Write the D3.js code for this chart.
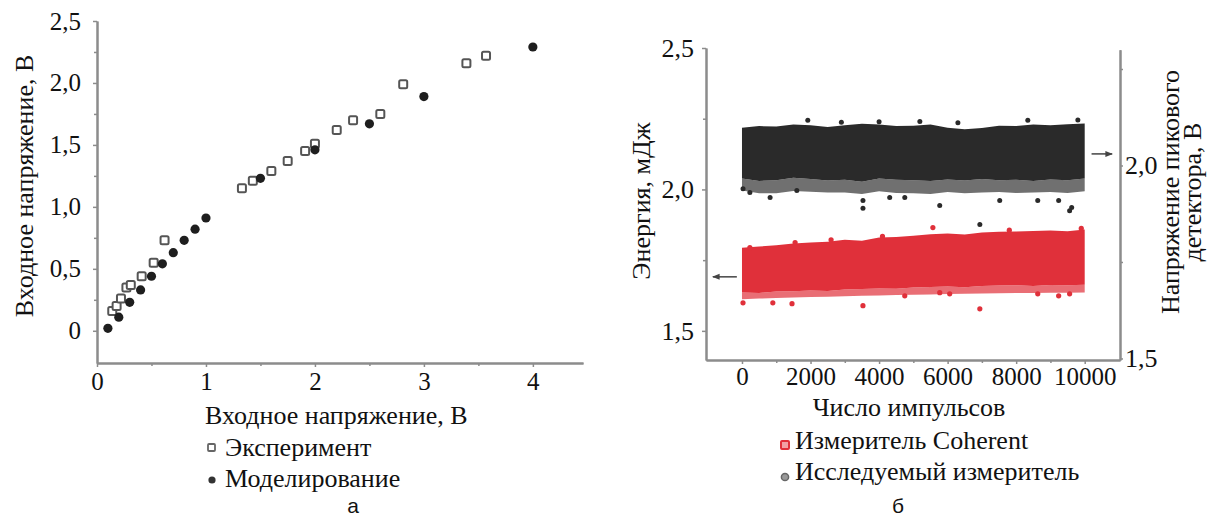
<!DOCTYPE html>
<html>
<head>
<meta charset="utf-8">
<script src="https://cdn.jsdelivr.net/npm/d3@7"></script>
<style>
    body { margin: 0; background: #fff; }
    svg text { font-family: "Liberation Serif", "Times New Roman", serif; fill: #111; }
    .axis path, .axis line { stroke: #8c8c8c; }
    .axis path { stroke-width: 2; }
    .axis line { stroke-width: 1.5; }
</style>
</head>
<body>
<svg id="chart" width="1210" height="520"></svg>
<script>
// ---- panel a: input voltage curve ----
const expX = [0.14, 0.18, 0.22, 0.27, 0.31, 0.41, 0.52, 0.62, 1.33, 1.43, 1.60, 1.75, 1.91, 2.00, 2.20, 2.35, 2.60, 2.81, 3.39, 3.57];
const expY = [0.16, 0.20, 0.26, 0.35, 0.37, 0.44, 0.55, 0.73, 1.15, 1.21, 1.29, 1.37, 1.45, 1.51, 1.62, 1.70, 1.75, 1.99, 2.16, 2.22];
const simX = [0.1, 0.2, 0.3, 0.4, 0.5, 0.6, 0.7, 0.8, 0.9, 1.0, 1.5, 2.0, 2.5, 3.0, 4.0];
const simY = [0.02, 0.11, 0.23, 0.33, 0.44, 0.54, 0.63, 0.73, 0.82, 0.91, 1.23, 1.46, 1.67, 1.89, 2.29];
const aTicksX = [0, 1, 2, 3, 4];
const aTicksY = [0, 0.5, 1.0, 1.5, 2.0, 2.5];

// ---- panel b: energy over pulse count (band edges + stray points) ----
const pulses = [0, 500, 1000, 1500, 2000, 2500, 3000, 3500, 4000, 4500, 5000, 5500, 6000, 6500, 7000, 7500, 8000, 8500, 9000, 9500, 10000];
const coherentTop = [1.794, 1.798, 1.803, 1.809, 1.812, 1.815, 1.822, 1.819, 1.830, 1.832, 1.836, 1.842, 1.844, 1.841, 1.848, 1.850, 1.851, 1.853, 1.855, 1.852, 1.858];
const coherentLow = [1.636, 1.634, 1.639, 1.640, 1.643, 1.641, 1.646, 1.648, 1.650, 1.649, 1.653, 1.655, 1.657, 1.654, 1.659, 1.660, 1.661, 1.659, 1.662, 1.661, 1.663];
const coherentSparse = [1.612, 1.614, 1.616, 1.618, 1.620, 1.621, 1.622, 1.624, 1.625, 1.627, 1.628, 1.629, 1.630, 1.631, 1.632, 1.633, 1.634, 1.634, 1.635, 1.635, 1.636];
const coherentOutX = [30, 900, 1460, 3530, 4750, 5770, 6060, 6940, 8630, 9240, 9560, 230, 1550, 5570, 2600, 4100, 7800, 9900];
const coherentOutY = [1.599, 1.599, 1.596, 1.589, 1.624, 1.635, 1.631, 1.578, 1.631, 1.624, 1.631, 1.794, 1.812, 1.865, 1.822, 1.834, 1.856, 1.862];
const testTop = [2.098, 2.102, 2.101, 2.106, 2.104, 2.100, 2.104, 2.108, 2.106, 2.102, 2.103, 2.106, 2.098, 2.094, 2.097, 2.103, 2.102, 2.106, 2.104, 2.107, 2.109];
const testLow = [1.966, 1.960, 1.962, 1.968, 1.965, 1.961, 1.963, 1.958, 1.966, 1.963, 1.962, 1.960, 1.964, 1.961, 1.965, 1.962, 1.963, 1.960, 1.964, 1.962, 1.966];
const testSparse = [1.935, 1.928, 1.928, 1.934, 1.932, 1.930, 1.930, 1.926, 1.933, 1.929, 1.928, 1.926, 1.931, 1.928, 1.930, 1.931, 1.929, 1.930, 1.931, 1.929, 1.933];
const testOutX = [30, 230, 820, 1600, 3530, 3530, 4310, 4750, 5770, 6940, 7520, 8630, 9240, 9620, 9560, 1920, 5190, 8340, 2900, 4000, 6300, 9800];
const testOutY = [1.940, 1.930, 1.917, 1.935, 1.909, 1.889, 1.917, 1.917, 1.896, 1.847, 1.909, 1.909, 1.909, 1.891, 1.883, 2.117, 2.114, 2.117, 2.112, 2.113, 2.111, 2.118];
const bTicksX = [0, 2000, 4000, 6000, 8000, 10000];
const bTicksY = [1.5, 2.0, 2.5];
const bTicksR = [1.5, 2.0];

const svg = d3.select("#chart");
const fmt = v => v === 0 ? "0" : d3.format(".1f")(v).replace(".", ",");
const SERIF = "'Liberation Serif', 'Times New Roman', serif";

function styleAxis(g, size) {
    g.attr("class", "axis").attr("font-family", null);
    g.selectAll("text")
        .style("font-family", SERIF)
        .style("font-size", size + "px")
        .attr("fill", "#111");
}

function drawPanelA() {
    const x = d3.scaleLinear().domain([0, 4.46]).range([97, 583]);
    const y = d3.scaleLinear().domain([-0.26, 2.5]).range([363, 21]);

    // minor ticks
    svg.append("g").attr("transform", "translate(0,363)")
        .call(d3.axisBottom(x).tickValues([0.5, 1.5, 2.5, 3.5]).tickSize(3).tickFormat("").tickSizeOuter(0))
        .call(g => g.attr("class", "axis"));
    svg.append("g").attr("transform", "translate(97,0)")
        .call(d3.axisLeft(y).tickValues([0.25, 0.75, 1.25, 1.75, 2.25]).tickSize(3).tickFormat("").tickSizeOuter(0))
        .call(g => g.attr("class", "axis"));

    svg.append("g").attr("transform", "translate(0,363)")
        .call(d3.axisBottom(x).tickValues(aTicksX).tickSize(4).tickPadding(5).tickFormat(d3.format("d")).tickSizeOuter(0))
        .call(g => styleAxis(g, 25));
    svg.append("g").attr("transform", "translate(97,0)")
        .call(d3.axisLeft(y).tickValues(aTicksY).tickSize(4).tickPadding(12).tickFormat(fmt).tickSizeOuter(0))
        .call(g => styleAxis(g, 25));

    svg.append("text")
        .attr("transform", "translate(33,186) rotate(-90)")
        .attr("text-anchor", "middle")
        .style("font-size", "26px")
        .text("Входное напряжение, В");

    svg.append("text")
        .attr("x", 205).attr("y", 424)
        .style("font-size", "26px")
        .text("Входное напряжение, В");

    svg.selectAll("rect.exp")
        .data(expX.map((v, i) => [v, expY[i]]))
        .enter()
        .append("rect")
        .attr("class", "exp")
        .attr("x", d => x(d[0]) - 4)
        .attr("y", d => y(d[1]) - 4)
        .attr("width", 8).attr("height", 8)
        .attr("rx", 1.5)
        .attr("fill", "#fff")
        .attr("stroke", "#555")
        .attr("stroke-width", 2);

    svg.selectAll("circle.sim")
        .data(simX.map((v, i) => [v, simY[i]]))
        .enter()
        .append("circle")
        .attr("class", "sim")
        .attr("cx", d => x(d[0]))
        .attr("cy", d => y(d[1]))
        .attr("r", 4.6)
        .attr("fill", "#1e1e1e");

    // legend
    svg.append("rect")
        .attr("x", 208).attr("y", 444).attr("width", 7).attr("height", 7).attr("rx", 1)
        .attr("fill", "#fff").attr("stroke", "#666").attr("stroke-width", 1.8);
    svg.append("text").attr("x", 225).attr("y", 456).style("font-size", "26px").text("Эксперимент");
    svg.append("circle").attr("cx", 212).attr("cy", 480).attr("r", 3.6).attr("fill", "#333");
    svg.append("text").attr("x", 225).attr("y", 487).style("font-size", "26px").text("Моделирование");

    svg.append("text").attr("x", 353).attr("y", 513).attr("text-anchor", "middle")
        .style("font-family", "'Liberation Sans', Arial, sans-serif").style("font-size", "21px").text("а");
}

function drawPanelB() {
    const x = d3.scaleLinear().domain([-1050, 11030]).range([706, 1120]);
    const y = d3.scaleLinear().domain([1.397, 2.5]).range([360, 48]);
    const yR = d3.scaleLinear().domain([1.496, 2.3]).range([360, 49.7]);

    const band = (top, low, scale) => d3.area()
        .x((d, i) => x(pulses[i]))
        .y0((d, i) => scale(low[i]))
        .y1((d, i) => scale(top[i]));

    // peak detector band (right axis)
    svg.append("path").datum(pulses)
        .attr("fill", "#333").attr("opacity", 0.7)
        .attr("d", band(testLow, testSparse, yR));
    svg.append("path").datum(pulses)
        .attr("fill", "#2a2a2a")
        .attr("d", band(testTop, testLow, yR));
    svg.selectAll("circle.test")
        .data(testOutX.map((v, i) => [v, testOutY[i]]))
        .enter().append("circle").attr("class", "test")
        .attr("cx", d => x(d[0])).attr("cy", d => yR(d[1])).attr("r", 2.5)
        .attr("fill", "#2a2a2a");

    // Coherent band (left axis)
    svg.append("path").datum(pulses)
        .attr("fill", "#e0303a").attr("opacity", 0.7)
        .attr("d", band(coherentLow, coherentSparse, y));
    svg.append("path").datum(pulses)
        .attr("fill", "#e0303a")
        .attr("d", band(coherentTop, coherentLow, y));
    svg.selectAll("circle.coh")
        .data(coherentOutX.map((v, i) => [v, coherentOutY[i]]))
        .enter().append("circle").attr("class", "coh")
        .attr("cx", d => x(d[0])).attr("cy", d => y(d[1])).attr("r", 2.6)
        .attr("fill", "#e0303a");

    // minor ticks
    svg.append("g").attr("transform", "translate(0,360)")
        .call(d3.axisBottom(x).tickValues([1000, 3000, 5000, 7000, 9000]).tickSize(3).tickFormat("").tickSizeOuter(0))
        .call(g => g.attr("class", "axis"));
    svg.append("g").attr("transform", "translate(706,0)")
        .call(d3.axisLeft(y).tickValues([1.75, 2.25]).tickSize(3).tickFormat("").tickSizeOuter(0))
        .call(g => g.attr("class", "axis"));
    svg.append("g").attr("transform", "translate(1120,0)")
        .call(d3.axisRight(yR).tickValues([1.75, 2.25]).tickSize(3).tickFormat("").tickSizeOuter(0))
        .call(g => g.attr("class", "axis"));

    svg.append("g").attr("transform", "translate(0,360)")
        .call(d3.axisBottom(x).tickValues(bTicksX).tickSize(4).tickPadding(3).tickFormat(d3.format("d")).tickSizeOuter(0))
        .call(g => styleAxis(g, 25));
    svg.append("g").attr("transform", "translate(706,0)")
        .call(d3.axisLeft(y).tickValues(bTicksY).tickSize(4).tickPadding(8).tickFormat(fmt).tickSizeOuter(0))
        .call(g => styleAxis(g, 26));
    svg.append("g").attr("transform", "translate(1120,0)")
        .call(d3.axisRight(yR).tickValues(bTicksR).tickSize(3).tickPadding(2).tickFormat(fmt).tickSizeOuter(0))
        .call(g => styleAxis(g, 26));

    // arrows pointing at the axis each band belongs to
    svg.append("defs").append("marker")
        .attr("id", "head").attr("viewBox", "0 0 10 10").attr("refX", 9).attr("refY", 5)
        .attr("markerWidth", 5).attr("markerHeight", 5).attr("orient", "auto")
        .append("path").attr("d", "M0,1 L10,5 L0,9 z").attr("fill", "#444");
    svg.append("line")
        .attr("x1", x(-150)).attr("x2", x(-850)).attr("y1", y(1.691)).attr("y2", y(1.691))
        .attr("stroke", "#444").attr("stroke-width", 1.5).attr("marker-end", "url(#head)");
    svg.append("line")
        .attr("x1", x(10200)).attr("x2", x(10800)).attr("y1", yR(2.03)).attr("y2", yR(2.03))
        .attr("stroke", "#444").attr("stroke-width", 1.5).attr("marker-end", "url(#head)");

    svg.append("text")
        .attr("transform", "translate(650,201) rotate(-90)")
        .attr("text-anchor", "middle").style("font-size", "26px")
        .text("Энергия, мДж");
    svg.append("text")
        .attr("transform", "translate(1179,192) rotate(-90)")
        .attr("text-anchor", "middle").style("font-size", "26px")
        .text("Напряжение пикового");
    svg.append("text")
        .attr("transform", "translate(1201,192) rotate(-90)")
        .attr("text-anchor", "middle").style("font-size", "26px")
        .text("детектора, В");

    svg.append("text").attr("x", 909).attr("y", 416).attr("text-anchor", "middle")
        .style("font-size", "26px").text("Число импульсов");

    // legend
    svg.append("rect").attr("x", 781).attr("y", 441).attr("width", 8).attr("height", 8).attr("rx", 1)
        .attr("fill", "#f2a0a4").attr("stroke", "#e0303a").attr("stroke-width", 2);
    svg.append("text").attr("x", 795).attr("y", 449).style("font-size", "26px").text("Измеритель Coherent");
    svg.append("circle").attr("cx", 785).attr("cy", 477).attr("r", 3.6)
        .attr("fill", "#999").attr("stroke", "#666").attr("stroke-width", 1.5);
    svg.append("text").attr("x", 795).attr("y", 480).style("font-size", "26px").text("Исследуемый измеритель");

    svg.append("text").attr("x", 898).attr("y", 513).attr("text-anchor", "middle")
        .style("font-family", "'Liberation Sans', Arial, sans-serif").style("font-size", "21px").text("б");
}

drawPanelA();
drawPanelB();
</script>
</body>
</html>
